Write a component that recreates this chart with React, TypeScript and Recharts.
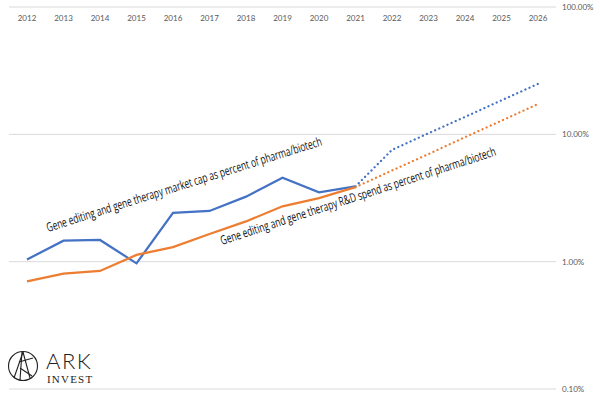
import React from 'react';
import { LineChart, Line, XAxis, YAxis, CartesianGrid } from 'recharts';

const years = ['2012','2013','2014','2015','2016','2017','2018','2019','2020','2021','2022','2023','2024','2025','2026'];
const marketCapActual: (number | null)[] = [1.04, 1.46, 1.48, 0.97, 2.42, 2.5, 3.24, 4.56, 3.5, 3.9, null, null, null, null, null];
const marketCapForecast: (number | null)[] = [null, null, null, null, null, null, null, null, null, 3.9, 7.55, 10.2, 13.7, 18.5, 24.9];
const rdActual: (number | null)[] = [0.7, 0.805, 0.845, 1.13, 1.3, 1.65, 2.07, 2.72, 3.16, 3.85, null, null, null, null, null];
const rdForecast: (number | null)[] = [null, null, null, null, null, null, null, null, null, 3.85, 5.2, 7.0, 9.5, 12.8, 17.3];
const yTicks = [0.1, 1, 10, 100];

const data = years.map((y, i) => ({
  year: y,
  mcA: marketCapActual[i],
  mcF: marketCapForecast[i],
  rdA: rdActual[i],
  rdF: rdForecast[i],
}));

const BLUE = '#4472C4';
const ORANGE = '#ED7D31';
const AXIS_FONT = 'Lato, "Open Sans", sans-serif';

export default function App() {
  return (
    <div style={{ position: 'absolute', left: 0, top: 0, width: 600, height: 397, background: '#fff' }}>
      <LineChart width={600} height={397} data={data} margin={{ top: 7, right: 0, left: 9, bottom: 8 }}>
        <CartesianGrid vertical={false} stroke="#d9d9d9" strokeWidth={1} />
        <XAxis
          dataKey="year"
          orientation="top"
          mirror
          axisLine={false}
          tickLine={false}
          tickSize={6}
          tickMargin={2}
          interval={0}
          padding={{ left: 18, right: 18 }}
          tick={{ fill: '#595959', fontSize: 8, fontFamily: AXIS_FONT }}
        />
        <YAxis
          orientation="right"
          scale="log"
          domain={[0.1, 100]}
          ticks={yTicks}
          allowDataOverflow
          axisLine={false}
          tickLine={false}
          width={44}
          tickMargin={0}
          tickSize={6}
          tickFormatter={(v: number) => v.toFixed(2) + '%'}
          tick={{ fill: '#595959', fontSize: 8, fontFamily: AXIS_FONT }}
        />
        <Line dataKey="mcA" stroke={BLUE} strokeWidth={2.25} dot={false} isAnimationActive={false} connectNulls={false} />
        <Line dataKey="rdA" stroke={ORANGE} strokeWidth={2.25} dot={false} isAnimationActive={false} connectNulls={false} />
        <Line dataKey="mcF" stroke={BLUE} strokeWidth={2.25} strokeDasharray="0.1 4.4" strokeLinecap="round" dot={false} isAnimationActive={false} />
        <Line dataKey="rdF" stroke={ORANGE} strokeWidth={2.25} strokeDasharray="0.1 4.4" strokeLinecap="round" dot={false} isAnimationActive={false} />
      </LineChart>
      <svg width={600} height={397} style={{ position: 'absolute', left: 0, top: 0, pointerEvents: 'none' }}>
        <text x={48} y={232} transform="rotate(-17.55 48 232)" fontSize={12.5} fontFamily='"Open Sans", sans-serif' fill="#111" textLength={288} lengthAdjust="spacingAndGlyphs">
          Gene editing and gene therapy market cap as percent of pharma/biotech
        </text>
        <text x={222} y={245} transform="rotate(-18.1 222 245)" fontSize={12.5} fontFamily='"Open Sans", sans-serif' fill="#111" textLength={289} lengthAdjust="spacingAndGlyphs">
          Gene editing and gene therapy R&amp;D spend as percent of pharma/biotech
        </text>
        <g stroke="#222" strokeWidth={1.1} fill="none">
          <circle cx={23} cy={366} r={14.5} />
          <line x1={14} y1={378} x2={23} y2={352} />
          <line x1={23} y1={352} x2={30} y2={378} />
          <line x1={19} y1={362} x2={33} y2={358} />
          <line x1={22} y1={352} x2={20} y2={380} />
          <line x1={20} y1={368} x2={32} y2={376} />
        </g>
        <text x={46} y={369} fontSize={22} fontFamily='Lato, "DejaVu Sans", sans-serif' fontWeight={300} fill="#222" letterSpacing={1.5}>ARK</text>
        <text x={47} y={383} fontSize={11} fontFamily='"Liberation Serif", "DejaVu Serif", serif' fill="#222" letterSpacing={1.2}>INVEST</text>
      </svg>
    </div>
  );
}
